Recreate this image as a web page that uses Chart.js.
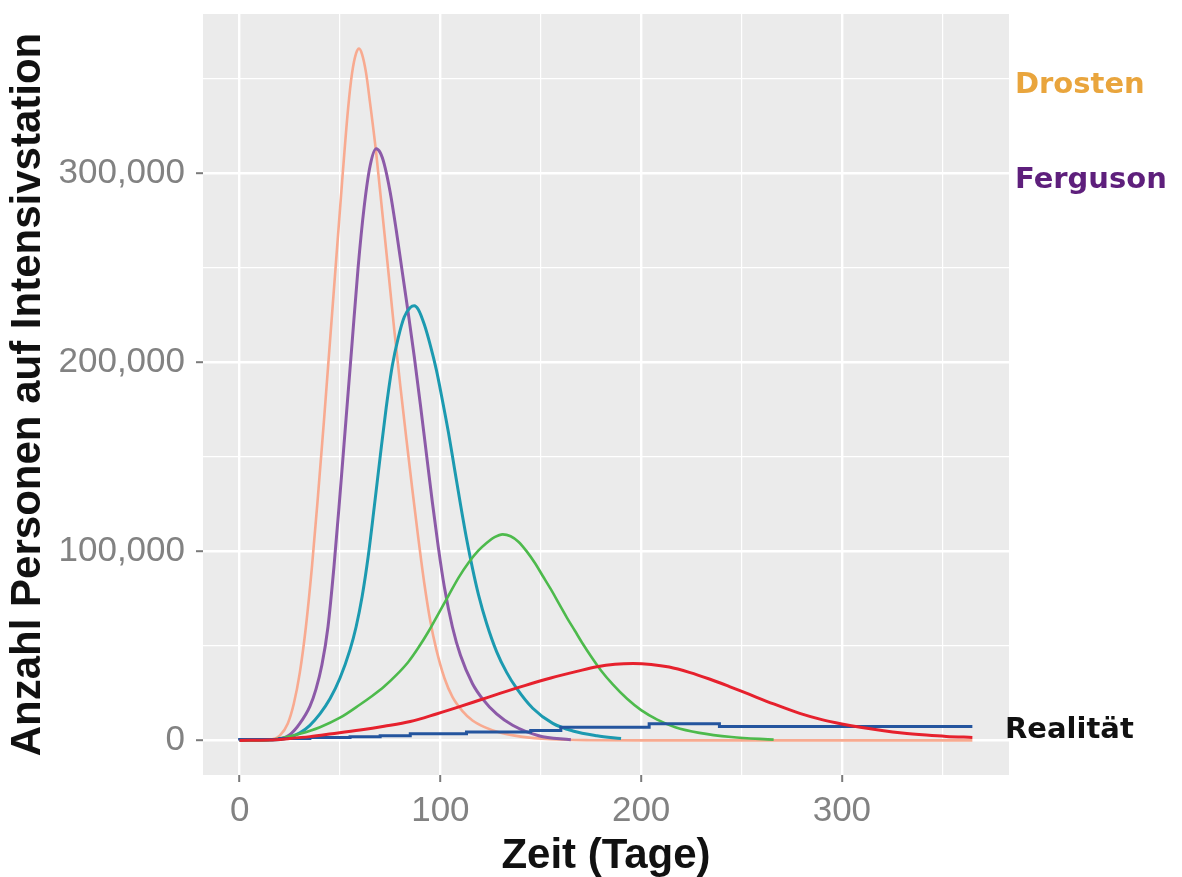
<!DOCTYPE html>
<html>
<head>
<meta charset="utf-8">
<script src="https://cdn.jsdelivr.net/npm/chart.js@4.4.1/dist/chart.umd.min.js"></script>
<style>
  html, body { margin: 0; padding: 0; background: #ffffff; }
  #wrap { width: 1182px; height: 877px; position: relative; }
</style>
</head>
<body>
<div id="wrap"><canvas id="c" width="1182" height="877"></canvas></div>
<script>
// ---- Data (x: days, y: persons in thousands) ----
const drostenDays = [0,10,16,20,24,27,30,33,36,39,42,45,48,51,54,56,58,59.5,61,63,65,68,71,74,77,80,83,86,89,92,95,98,102,106,111,116,122,130,140,155,175,200,280,365];
const drostenVals = [0,0,0.5,2.5,9,19.5,36,60,91.5,129,169,211,253,295,334,353,363.5,366,363,353,337,311,280,249,217.5,188,160,133,107,83,63,48,33,23,15.5,10.5,7,4,2,0.6,0.1,0,0,0];

const fergusonDays = [0,15,21,25,30,35,38,41,44,47,50,53,56,59,62,65,68,70,72,75,78,81,84,87,90,93,96,99,102,106,110,116,121,128,136,149,165];
const fergusonVals = [0,0.3,1,3,9,18,27,40,60,92,130,170,210,250,282,304,313,311,305,290,270,248,226,203,178,152,126,102,81,60,45,30,22,14,8,2.5,0.3];

const tealDays = [0,15,23,30,35,40,45,50,55,58,61,64,67,70,73,76,79,82,85,87,89,92,95,98,101,104,107,110,113,116,119,123,128,133,138,146,156,166,178,190];
const tealVals = [0,0.2,1,4,8,14,22,33,48,60,76,97,123,150,176,198,213,224,229,230,228,220,209,196,180,163,144,125,107,91,77,62,47,36,27.5,17,9,5,2.5,1];

const greenDays = [0,15,22,30,40,50,60,66,72,78,84,89,94,99,104,109,114,119,123,127,131,135,139,143,147,151,155,159,163,167,171,175,180,186,193,200,208,217,229,245,266];
const greenVals = [0,0.3,1.5,3.5,7,12,19,23.5,28.5,34.5,41.5,49,57.5,67,76.5,86,94,100.5,104.5,107.5,109,108,105,100,94,87,80,72.5,65,58,51,44.5,37,29.5,22,16,11,7,4,1.8,0.4];

const redDays = [0,15,25,35,46,60,72,85,98,110,120,130,142,155,168,178,187,196,205,214,224,234,244,254,266,279,290,300,310,320,330,342,352,365];
const redVals = [0,0.2,1,2,3.5,5.5,7.5,10,14,18,21.5,25,29,33,36.5,39,40.3,40.7,40.2,38.8,36,32.5,28.5,24.3,19.3,14.3,11,8.7,6.8,5.2,3.9,2.8,2.1,1.6];

const realDays = [0,20,35,55,70,85,113,145,160,204,239,352,365];
const realVals = [0,0.5,1,1.5,2,2.5,3.5,4.5,5.3,7,8.8,7.3,7.3];

// ---- Ticks / labels ----
const xGridTicks = [0,50,100,150,200,250,300,350];
const xMajorTicks = [0,100,200,300];
const yGridTicks = [0,50,100,150,200,250,300,350];
const yMajorTicks = [0,100,200,300];
const xTitle = 'Zeit (Tage)';
const yTitle = 'Anzahl Personen auf Intensivstation';
const sideLabels = ['Drosten','Ferguson','Realität'];

// ---- Styles ----
const FONT = "'Liberation Sans', Arial, sans-serif";
const toPts = (xs, ys) => xs.map((x, i) => ({ x: x, y: ys[i] }));

const panelPlugin = {
  id: 'panel',
  beforeDraw(chart) {
    const { ctx, chartArea: a } = chart;
    ctx.save();
    ctx.fillStyle = '#ffffff';
    ctx.fillRect(0, 0, chart.width, chart.height);
    ctx.fillStyle = '#EBEBEB';
    ctx.fillRect(a.left, a.top, a.right - a.left, a.bottom - a.top);
    ctx.restore();
  }
};

const labelPlugin = {
  id: 'sideLabels',
  afterDraw(chart) {
    const ctx = chart.ctx;
    ctx.save();
    ctx.font = "bold 29px 'DejaVu Sans', Verdana, sans-serif";
    ctx.textBaseline = 'alphabetic';
    ctx.textAlign = 'left';
    ctx.fillStyle = '#E9A53D';
    ctx.fillText(sideLabels[0], 1015, 93);
    ctx.fillStyle = '#5E1F7C';
    ctx.fillText(sideLabels[1], 1015, 188);
    ctx.fillStyle = '#111111';
    ctx.fillText(sideLabels[2], 1005, 738);
    ctx.restore();
  }
};

const lineDs = (label, xs, ys, color, width, order, extra) => Object.assign({
  label: label,
  data: toPts(xs, ys),
  borderColor: color,
  backgroundColor: color,
  borderWidth: width,
  pointRadius: 0,
  fill: false,
  cubicInterpolationMode: 'monotone',
  order: order
}, extra || {});

new Chart(document.getElementById('c'), {
  type: 'line',
  data: {
    datasets: [
      lineDs('Drosten', drostenDays, drostenVals, '#F8AA90', 2.6, 6),
      lineDs('Ferguson', fergusonDays, fergusonVals, '#8C5AA8', 3, 5),
      lineDs('Modell 3', tealDays, tealVals, '#1C9AB0', 3, 4),
      lineDs('Modell 4', greenDays, greenVals, '#4DBA4C', 2.6, 3),
      lineDs('Realität', realDays, realVals, '#24559E', 3, 2, { stepped: 'after', cubicInterpolationMode: 'default' }),
      lineDs('Modell 5', redDays, redVals, '#E6212D', 3, 1)
    ]
  },
  options: {
    responsive: false,
    animation: false,
    devicePixelRatio: 1,
    layout: { padding: { top: 14, right: 173, bottom: 0, left: 0 } },
    plugins: { legend: { display: false }, tooltip: { enabled: false } },
    scales: {
      x: {
        type: 'linear',
        min: -18.25,
        max: 383.25,
        afterBuildTicks: s => { s.ticks = xGridTicks.map(v => ({ value: v })); },
        afterFit: s => { s.height = 102; s.paddingLeft = 0; s.paddingRight = 0; },
        border: { display: false },
        grid: {
          color: '#ffffff',
          lineWidth: c => (xMajorTicks.includes(c.tick && c.tick.value) ? 2.4 : 1.2),
          tickColor: c => (xMajorTicks.includes(c.tick && c.tick.value) ? '#7a7a7a' : 'rgba(0,0,0,0)'),
          tickLength: 7,
          tickWidth: 2
        },
        ticks: {
          autoSkip: false,
          maxRotation: 0,
          padding: 8,
          color: '#828282',
          font: { family: FONT, size: 35 },
          callback: v => (xMajorTicks.includes(v) ? String(v) : '')
        },
        title: {
          display: true,
          text: xTitle,
          color: '#111111',
          font: { family: FONT, size: 42, weight: 'bold', lineHeight: 1.0 },
          padding: { top: 0, bottom: 0 }
        }
      },
      y: {
        type: 'linear',
        min: -18.3,
        max: 384.3,
        afterBuildTicks: s => { s.ticks = yGridTicks.map(v => ({ value: v })); },
        afterFit: s => { s.width = 203; s.paddingTop = 0; s.paddingBottom = 0; },
        border: { display: false },
        grid: {
          color: '#ffffff',
          lineWidth: c => (yMajorTicks.includes(c.tick && c.tick.value) ? 2.4 : 1.2),
          tickColor: c => (yMajorTicks.includes(c.tick && c.tick.value) ? '#7a7a7a' : 'rgba(0,0,0,0)'),
          tickLength: 7,
          tickWidth: 2
        },
        ticks: {
          autoSkip: false,
          padding: 11,
          color: '#828282',
          font: { family: FONT, size: 35 },
          callback: v => (yMajorTicks.includes(v) ? (v * 1000).toLocaleString('en-US') : '')
        },
        title: {
          display: true,
          text: yTitle,
          color: '#111111',
          font: { family: FONT, size: 42, weight: 'bold', lineHeight: 1.0 },
          padding: { top: 7, bottom: 0 }
        }
      }
    }
  },
  plugins: [panelPlugin, labelPlugin]
});
</script>
</body>
</html>
